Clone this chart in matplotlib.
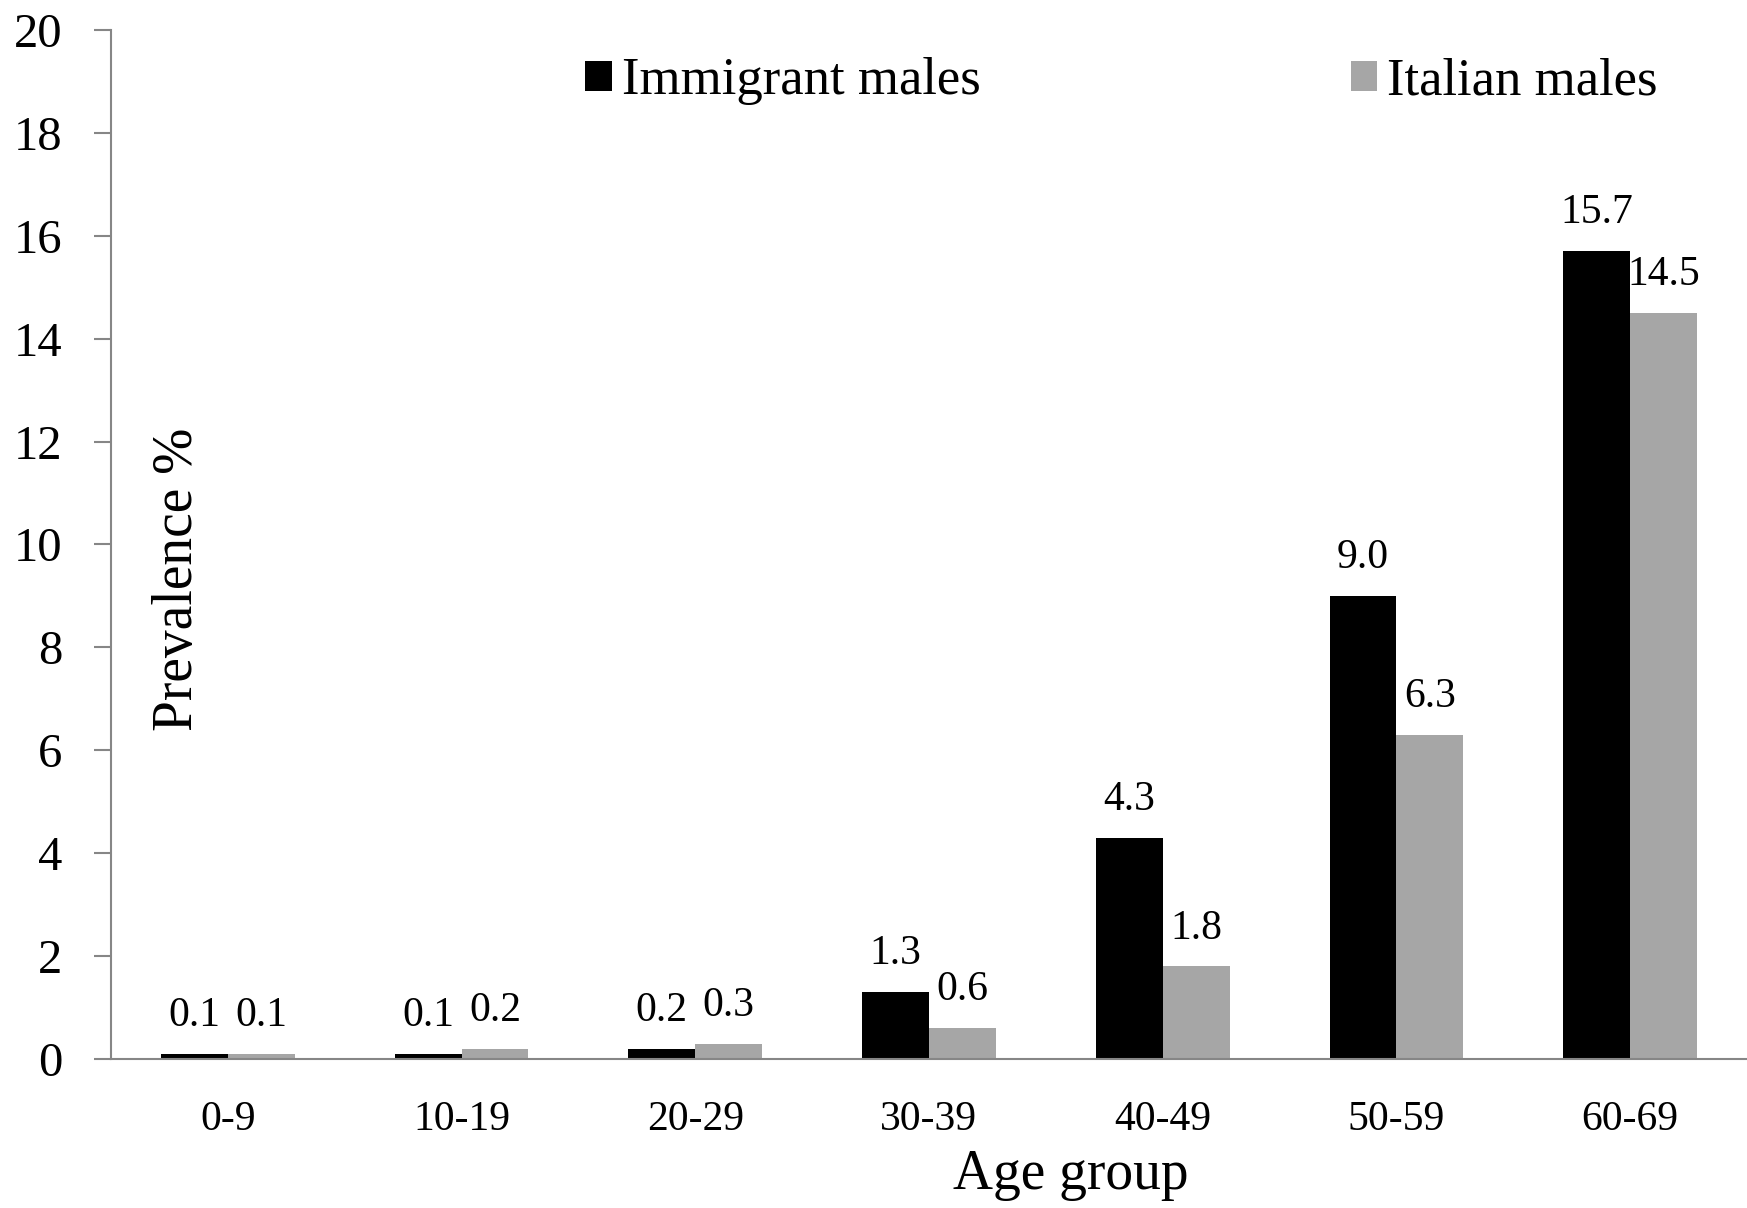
import numpy as np
import matplotlib
matplotlib.use("Agg")
import matplotlib.pyplot as plt

# Données
age_groups = ["0-9", "10-19", "20-29", "30-39", "40-49", "50-59", "60-69"]
immigrant = [0.1, 0.1, 0.2, 1.3, 4.3, 9.0, 15.7]
italian = [0.1, 0.2, 0.3, 0.6, 1.8, 6.3, 14.5]
yticks = [0, 2, 4, 6, 8, 10, 12, 14, 16, 18, 20]

plt.rcParams['font.family'] = ['Liberation Serif', 'DejaVu Serif']

fig = plt.figure(figsize=(17.47, 12.08), dpi=100)
ax = fig.add_axes([0.0635, 0.1233, 0.9365, 0.852])

x = np.arange(len(age_groups))
w = 0.286
b1 = ax.bar(x - w / 2, immigrant, w, color='black', label='Immigrant males')
b2 = ax.bar(x + w / 2, italian, w, color='#a6a6a6', label='Italian males')

# étiquettes de valeurs
for bars, vals in ((b1, immigrant), (b2, italian)):
    for r, v in zip(bars, vals):
        ax.annotate(f"{v:.1f}", (r.get_x() + r.get_width() / 2, r.get_height()),
                    xytext=(0, 20), textcoords='offset points',
                    ha='center', va='baseline', fontsize=30)

ax.set_xlim(-0.5, len(age_groups) - 0.5)
ax.set_ylim(0, 20)
ax.set_yticks(yticks)
ax.set_xticks(x)
ax.set_xticklabels(age_groups)

for s in ['top', 'right']:
    ax.spines[s].set_visible(False)
for s in ['left', 'bottom']:
    ax.spines[s].set_color('#868686')
    ax.spines[s].set_linewidth(1.5)

ax.tick_params(axis='y', length=12, width=1.5, color='#868686', pad=23, labelsize=35)
ax.tick_params(axis='x', length=0, pad=30, labelsize=30)

ax.text(0.041, 0.466, "Prevalence %", transform=ax.transAxes, rotation=90,
        ha='center', va='center', fontsize=40)
fig.text(0.613, 0.027, "Age group", ha='center', va='center', fontsize=40)

ax.legend(loc='center left', bbox_to_anchor=(0.29, 0.95), ncol=2, frameon=False,
          fontsize=38, handlelength=0.5, handleheight=0.5, handletextpad=0.2,
          columnspacing=7.0, borderpad=0, borderaxespad=0)

fig.savefig("out.png", dpi=100)
